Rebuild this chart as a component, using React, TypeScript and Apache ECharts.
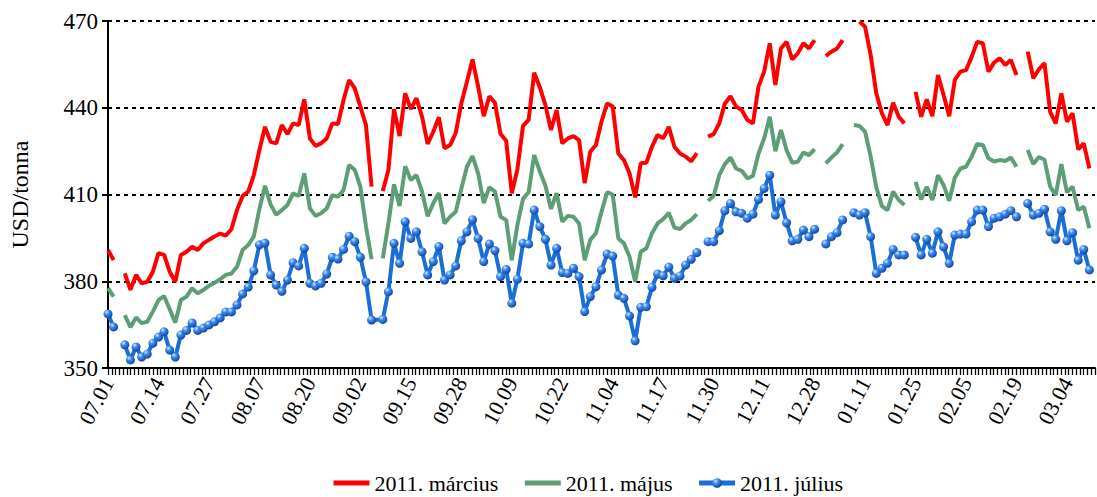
import React, { useEffect, useRef } from 'react';
import * as echarts from 'echarts';

const FONT = '"Liberation Serif", "DejaVu Serif", serif';

const tickLabels = ['07.01', '07.14', '07.27', '08.07', '08.20', '09.02', '09.15', '09.28', '10.09', '10.22',
  '11.04', '11.17', '11.30', '12.11', '12.28', '01.11', '01.25', '02.05', '02.19', '03.04'];

// 2011. március
const marcius: (number | null)[] = [
  390.8, 387.3, null, 382.7, 377, 382.2, 379.3, 379.8, 383.3, 389.7,
  389.1, 383.3, 379.8, 389.1, 390.2, 391.9, 390.8, 393.1, 394.3, 395.5,
  396.5, 395.8, 398, 404.6, 409.5, 411, 416.7, 425.4, 433.4, 428.2,
  427.7, 434, 430.9, 434.6, 434, 442.9, 429.4, 426.8, 427.7, 429.4,
  434.6, 434.4, 442.7, 449.6, 446.7, 440.4, 434, 412.7, null, 411.2,
  418.5, 439.5, 430.2, 445, 439.5, 443.3, 436.9, 427.5, 431.7, 436.7,
  426, 427.1, 431.2, 441.5, 449, 456.7, 447.3, 437.1, 444, 441.7,
  430.9, 428.6, 410.4, 418.7, 433.7, 435.8, 452.1, 447.1, 440.9, 432.3,
  439.2, 427.7, 429.4, 430.2, 428.8, 413.9, 424.8, 427.1, 435.2, 441.5,
  440.4, 424.2, 421.9, 417.3, 409, 420.8, 421, 426.5, 430.6, 429.4,
  433.4, 426.5, 424.2, 423.1, 421.5, 424.3, null, 430, 430.9, 434.6,
  441.5, 444, 440.4, 439.2, 435.8, 434.6, 447.3, 452.5, 462.3, 447.9,
  460.5, 462.8, 456.7, 458.8, 462.3, 460.5, 463.4, null, 457.9, 459.4,
  460.5, 463.4, null, null, 469.8, 468, 458.2, 445, 438.1, 434,
  441.7, 436.9, 434.6, null, 445.5, 436.9, 442.9, 437.1, 451.3, 444.4,
  437.1, 449.6, 452.5, 453, 457.6, 462.8, 462.3, 452.5, 455.6, 457.1,
  454.8, 456.5, 451.3, null, 459.4, 450.2, 453.3, 455.4, 438.6, 434.6,
  445, 435.2, 438.1, 425.6, 427.7, 419, null,
];

// 2011. május
const majus: (number | null)[] = [
  377.6, 374.7, null, 368.3, 364.1, 367.5, 365.5, 366, 369.5, 373.5,
  374.9, 370.3, 365.7, 373.5, 374.7, 377.6, 375.8, 377, 378.4, 379.5,
  380.7, 382.2, 382.7, 385, 390.8, 392.5, 395.5, 405, 413, 406.5,
  403, 404.6, 406.4, 410.4, 409.5, 417.3, 405.2, 402.6, 403.5, 405.2,
  409.8, 409.2, 411.5, 420.2, 418.5, 412.7, 399, 387.6, null, 387.9,
  400, 413.5, 406, 419.8, 415, 416.7, 411, 402.5, 407, 410.5,
  400, 402.3, 404, 412, 419.6, 423.3, 417.3, 407, 412.5, 411,
  402.3, 401.2, 387.3, 399.4, 408.5, 410.8, 423.6, 418, 413, 405,
  410.5, 400.6, 402.6, 402.3, 400, 387.3, 394.3, 396.6, 404, 410.8,
  410, 394.8, 393.1, 388.5, 379.8, 390.2, 391.4, 396.6, 400, 401.5,
  403.7, 398.6, 398, 400, 401.2, 403.2, null, 407.8, 409.5, 416.7,
  420.5, 422.8, 419, 418.2, 415.6, 416.4, 424.2, 429.4, 436.9, 425,
  432.3, 425.3, 421, 421.3, 424.5, 423.6, 425.7, null, 420.8, 422.8,
  424.5, 427.4, null, 434, 433.7, 431.7, 423.1, 412.5, 406, 404.6,
  411, 408.1, 406.4, null, 414.4, 408.3, 412.7, 408.1, 416.7, 413.3,
  407.8, 415.8, 419, 419.6, 423.1, 427.5, 427.1, 422.5, 421.4, 421.9,
  421.6, 422.8, 419.6, null, 425.4, 420.5, 423, 422, 412.7, 409.8,
  420.5, 410.7, 412.7, 404.6, 405.8, 398.3, null,
];

// 2011. július
const julius: (number | null)[] = [
  368.7, 364.2, null, 358, 352.8, 357.3, 353.8, 354.8, 358.6, 360.7,
  362.5, 356.2, 353.8, 361.4, 363, 365.6, 363, 363.8, 364.9, 366,
  367.3, 369.4, 369.4, 371.8, 375.6, 378, 383.6, 392.6, 393.2, 382.2,
  378.7, 376.5, 380.4, 386.4, 385.3, 391.4, 379.3, 378.4, 379.3, 382.5,
  388.3, 387.7, 391, 395.6, 393.7, 388.3, 379.8, 366.6, null, 366.8,
  376.4, 393.1, 386.2, 400.6, 394.8, 397.1, 390.2, 382.2, 386.8, 392,
  380.4, 382.2, 385.3, 394, 397.1, 401.3, 394.8, 386.8, 392.9, 390.6,
  381.6, 384.1, 372.4, 380.7, 393.1, 392.9, 404.6, 398.9, 394.5, 385.6,
  391.4, 383, 382.7, 384.5, 381.6, 369.5, 374.7, 378.1, 383.9, 389.4,
  388.7, 375.2, 374.1, 368, 359.4, 371, 371.2, 377.9, 382.5, 381.9,
  384.9, 381, 381.8, 385.6, 387.6, 389.9, null, 393.7, 393.7, 397.5,
  404.4, 406.9, 404, 403.5, 401.8, 403.2, 408.3, 412.1, 416.7, 402.9,
  407.5, 400.2, 394, 394.5, 397.7, 395.4, 398, null, 392.9, 395.4,
  396.8, 401.2, null, 403.7, 402.9, 403.7, 395.4, 382.7, 384.5, 386.2,
  391, 389.1, 389.1, null, 395.2, 389.1, 394.5, 389.7, 397.1, 391.9,
  386.2, 396, 396.3, 396.3, 400.6, 404.6, 404.6, 398.9, 401.8, 402.3,
  403.2, 404.4, 402.3, null, 406.9, 402.9, 403.5, 404.9, 397.1, 394.5,
  404.4, 394, 396.8, 387.3, 391, 383.9, null,
];

// missing days that the original joins with a straight line (no gap) in the július series
const juliusBridged = [48];

// the original's tick comb is denser than the daily points
const TICK_COUNT = 264;

const LABEL_STEP = 9;
const categories = marcius.map((_, i) => (i % LABEL_STEP === 0 ? tickLabels[i / LABEL_STEP] ?? '' : ''));
const tickSlots = Array.from({ length: TICK_COUNT }, (_, i) => 't' + i);

const juliusData: any[] = [];
julius.forEach((v, i) => {
  if (v === null && juliusBridged.includes(i)) return;
  juliusData.push([i, v === null ? '-' : v]);
});

const ball = new echarts.graphic.RadialGradient(0.35, 0.3, 0.75, [
  { offset: 0, color: '#d6ecff' },
  { offset: 0.35, color: '#3f8cf0' },
  { offset: 1, color: '#0a3f9e' },
]);

const NO_MARK = 'rgba(0,0,0,0)';

export default function App() {
  const ref = useRef<HTMLDivElement>(null);
  useEffect(() => {
    const chart = echarts.init(ref.current!, null, { renderer: 'svg' });
    chart.setOption({
      animation: false,
      backgroundColor: '#fff',
      textStyle: { fontFamily: FONT, color: '#000' },
      grid: { left: 103, right: 2, top: 21, bottom: 129 },
      legend: {
        left: 326,
        top: 467,
        itemWidth: 36,
        itemHeight: 12,
        itemGap: 24,
        lineStyle: { width: 5 },
        textStyle: { fontSize: 22, color: '#000', fontFamily: FONT },
        data: ['2011. március', '2011. május', '2011. július'],
      },
      xAxis: [
        {
          type: 'category',
          data: categories,
          boundaryGap: false,
          axisLine: { lineStyle: { color: '#000', width: 2 } },
          axisTick: { show: false },
          axisLabel: { interval: LABEL_STEP - 1, rotate: 62, fontSize: 22, color: '#000', margin: 11, fontFamily: FONT },
          splitLine: { show: false },
          z: 5,
        },
        {
          type: 'category',
          data: tickSlots,
          boundaryGap: false,
          position: 'bottom',
          axisLine: { show: false },
          axisTick: { show: true, interval: 0, length: 7, lineStyle: { color: '#000', width: 1.3 } },
          axisLabel: { show: false },
          splitLine: { show: false },
          axisPointer: { show: false },
        },
      ],
      yAxis: {
        type: 'value',
        min: 350,
        max: 470,
        interval: 30,
        name: 'USD/tonna',
        nameLocation: 'middle',
        nameGap: 76,
        nameRotate: 90,
        nameTextStyle: { fontSize: 24, color: '#000', fontFamily: FONT },
        axisLine: { show: true, lineStyle: { color: '#000', width: 2 } },
        axisTick: { show: true, length: 6, lineStyle: { color: '#000', width: 2 } },
        axisLabel: { fontSize: 23, color: '#000', margin: 10, fontFamily: FONT },
        splitLine: { show: true, lineStyle: { color: '#000', type: [4, 4], width: 2 } },
      },
      series: [
        {
          name: '2011. március',
          type: 'line',
          xAxisIndex: 0,
          data: marcius,
          symbol: 'none',
          connectNulls: false,
          lineStyle: { color: '#ff0000', width: 4 },
          itemStyle: { color: NO_MARK },
        },
        {
          name: '2011. május',
          type: 'line',
          xAxisIndex: 0,
          data: majus,
          symbol: 'none',
          connectNulls: false,
          lineStyle: { color: '#5e9e76', width: 4 },
          itemStyle: { color: NO_MARK },
        },
        {
          name: '2011. július',
          type: 'line',
          xAxisIndex: 0,
          data: juliusData,
          symbol: 'circle',
          symbolSize: 9,
          showAllSymbol: true,
          connectNulls: false,
          lineStyle: { color: '#1a6fd4', width: 4 },
          itemStyle: { color: ball, borderWidth: 0 },
          z: 3,
        },
      ],
    });
    return () => chart.dispose();
  }, []);
  return (
    <div
      ref={ref}
      style={{ position: 'absolute', left: 0, top: 0, width: 1097, height: 497, background: '#fff' }}
    />
  );
}
